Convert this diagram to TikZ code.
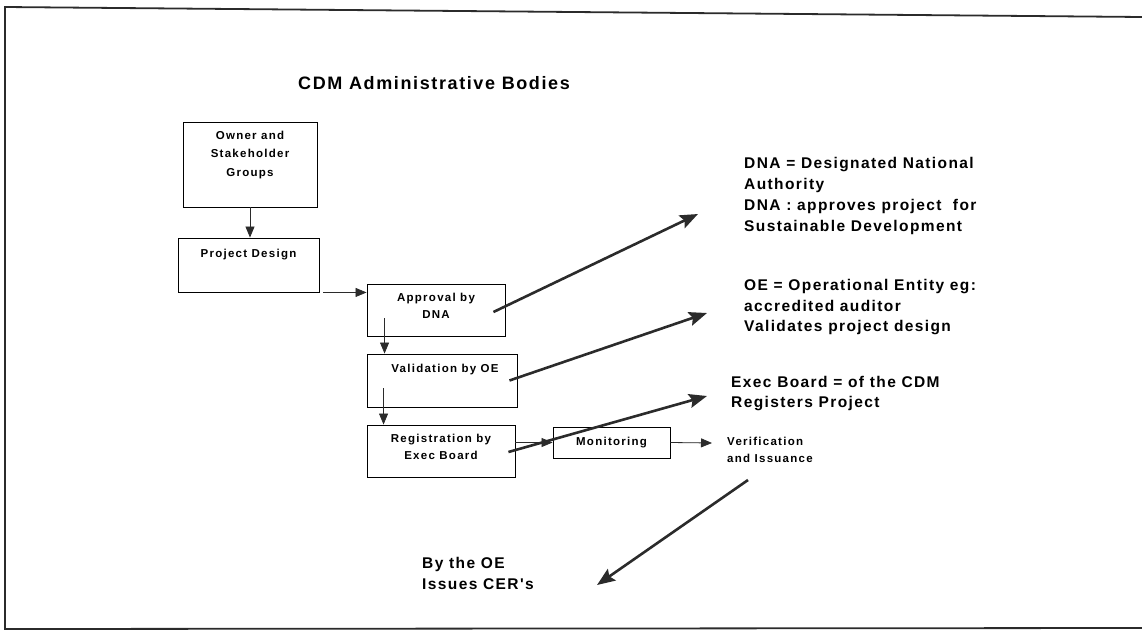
\documentclass[tikz,border=0pt]{standalone}
\usepackage{fontspec}
\setmainfont{Liberation Sans}
\newfontfamily\spacedfont{Liberation Sans}[LetterSpace=9]
\newfontfamily\widefont{Liberation Sans}[LetterSpace=11]
\usetikzlibrary{arrows.meta,calc}
\definecolor{inkgray}{HTML}{2B2B2B}
\tikzset{
  boxnode/.style={draw=black, line width=0.9pt, inner sep=0pt},
  boxtext/.style={font=\widefont\bfseries\fontsize{11.5}{18.5}\selectfont, align=center, inner sep=0pt, anchor=north},
  notetext/.style={font=\spacedfont\bfseries\fontsize{15.5}{21}\selectfont, align=left, inner sep=0pt, anchor=north west},
  thinarrow/.style={-{Triangle[length=11pt,width=9pt]}, line width=0.8pt, draw=inkgray, fill=inkgray},
  thickarrow/.style={-{Stealth[length=18pt,width=14pt,inset=3pt]}, line width=2.6pt, draw=inkgray}
}
\begin{document}
\begin{tikzpicture}[x=1pt,y=-1pt]
\useasboundingbox (0,0) rectangle (1142,640);
\draw[line width=1.8pt, draw=inkgray] (1142,17) -- (5,7) -- (5,629) -- (1142,628);

\node[font=\spacedfont\bfseries\fontsize{18}{22}\selectfont, anchor=west, inner sep=0pt] (title) at (298,83) {CDM Administrative Bodies};

\node[boxnode, minimum width=134pt, minimum height=85pt] (owner) at (250,164.5) {};
\node[boxtext] (ownerlbl) at ([yshift=-9pt]owner.north) {Owner and\\Stakeholder\\Groups};

\node[boxnode, minimum width=141pt, minimum height=54pt] (design) at (248.5,265) {};
\node[boxtext] (designlbl) at ([yshift=-11pt]design.north) {Project Design};

\node[boxnode, minimum width=138pt, minimum height=52pt] (dna) at (436,310) {};
\node[boxtext, font=\widefont\bfseries\fontsize{11.5}{17}\selectfont] (dnalbl) at ([yshift=-9pt]dna.north) {Approval by\\DNA};

\node[boxnode, minimum width=150pt, minimum height=53pt] (oe) at (442,380.5) {};
\node[boxtext] (oelbl) at ([xshift=3pt,yshift=-10pt]oe.north) {Validation by OE};

\node[boxnode, minimum width=148pt, minimum height=52pt] (reg) at (441,451) {};
\node[boxtext, font=\widefont\bfseries\fontsize{11.5}{17}\selectfont] (reglbl) at ([yshift=-9pt]reg.north) {Registration by\\Exec Board};

\node[boxnode, minimum width=117pt, minimum height=31pt, font=\widefont\bfseries\fontsize{11.5}{13}\selectfont] (mon) at (611.5,442.5) {Monitoring};

\node[notetext] (dnanote) at (744,157) {DNA = Designated National\\Authority\\DNA : approves project~ for\\Sustainable Development};
\node[notetext, font=\spacedfont\bfseries\fontsize{15.5}{20.5}\selectfont] (oenote) at (744,279.5) {OE = Operational Entity eg:\\accredited auditor\\Validates project design};
\node[notetext, font=\spacedfont\bfseries\fontsize{15.5}{20}\selectfont] (execnote) at (731,376.5) {Exec Board = of the CDM\\Registers Project};
\node[boxtext, anchor=north west, align=left, font=\widefont\bfseries\fontsize{11.5}{17}\selectfont] (vernote) at (727,437) {Verification\\and Issuance};
\node[notetext] (cernote) at (422,557.5) {By the OE\\Issues CER's};

\draw[thinarrow] (owner.south) -- (owner.south |- design.north);
\draw[thinarrow] ([xshift=4pt]design.south east) -- (design.south east -| dna.west);
\draw[thinarrow] ([xshift=18pt,yshift=18pt]dna.south west) -- ([xshift=18pt]oe.north west);
\draw[thinarrow] ([xshift=17pt,yshift=19pt]oe.south west) -- ([xshift=17pt]reg.north west);
\draw[thinarrow] (reg.east |- mon.west) -- (mon.west);
\coordinate (vtip) at (712,443);
\draw[thinarrow] (mon.east) -- (vtip);

\coordinate (dnatip) at (698,214);
\draw[thickarrow] ([xshift=-12pt,yshift=-2pt]dna.east) -- (dnatip);
\coordinate (oetip) at (707,313);
\draw[thickarrow] ([xshift=-8pt]oe.east) -- (oetip);
\coordinate (exectip) at (707,396);
\draw[thickarrow] ([xshift=-7pt,yshift=-1pt]reg.east) -- (exectip);
\coordinate (certail) at (748,480);
\coordinate (certip) at (597,585);
\draw[thickarrow] (certail) -- (certip);
\end{tikzpicture}
\end{document}
